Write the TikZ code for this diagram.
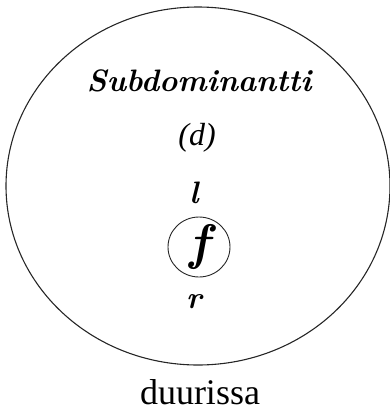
\documentclass[tikz,border=0pt]{standalone}
\usepackage{fontspec}
\setmainfont{Liberation Serif}
\newfontfamily\bolditfont{Latin Modern Roman}
\usetikzlibrary{shapes.geometric}
\newcommand{\fsz}[1]{\fontsize{#1}{#1}\selectfont}

\begin{document}
\begin{tikzpicture}[
  x=1pt, y=-1pt,
  area/.style={draw=black!85, line width=1.1pt, ellipse, inner sep=0pt},
  lbl/.style={inner sep=0pt, anchor=base},
  bi/.style={font=\fsz{#1}\bolditfont\bfseries\itshape},
]
\useasboundingbox (0,0) rectangle (389,413);

\node[area, minimum width=384pt, minimum height=358pt] (region) at (198,186) {};

\node[lbl, bi=31] (title) at (199,91) {Subdominantti};
\node[lbl, font=\fsz{32}\itshape] (dnode) at (197,145) {(d)};
\node[lbl, bi=31] (lnode) at (194,203) {l};
\node[area, line width=0.9pt, minimum width=62pt, minimum height=60pt] (fnode) at (199,247) {};
\node[bi=50, inner sep=0pt] (fsym) at (fnode) {f};
\node[lbl, bi=31] (rnode) at (194,308) {r};

\node[lbl, font=\fsz{36}] (key) at (200,404) {duurissa};

\end{tikzpicture}
\end{document}
